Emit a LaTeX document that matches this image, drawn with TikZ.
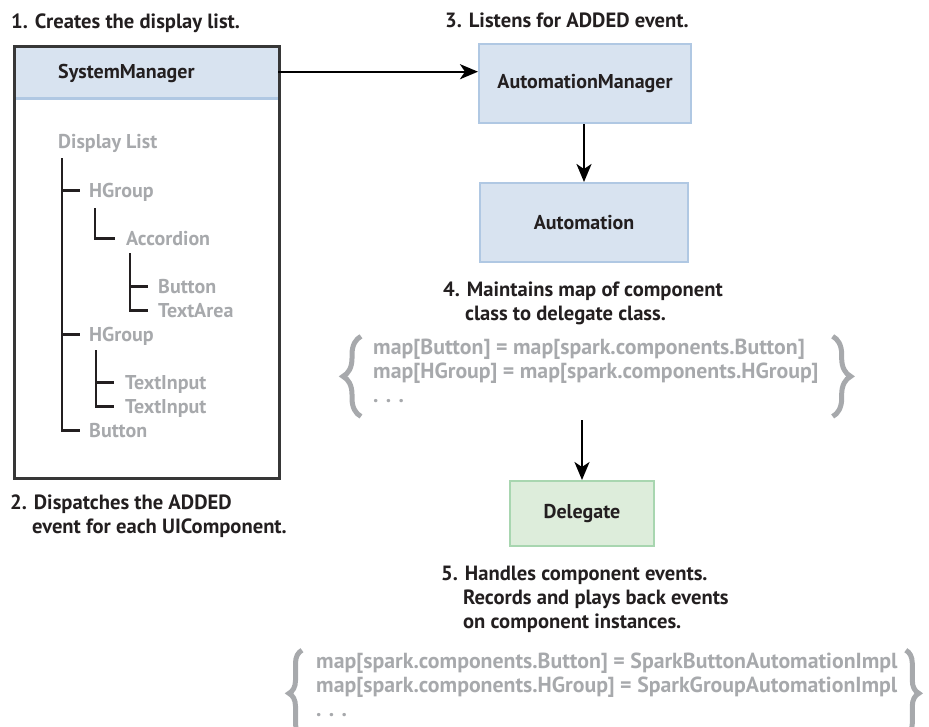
\documentclass[tikz,border=0pt]{standalone}
\usepackage{fontspec}
\setmainfont{PT Sans}
\usetikzlibrary{arrows.meta, positioning, decorations.pathreplacing}
\definecolor{cInk}{RGB}{35,31,32}
\definecolor{cGrey}{RGB}{167,169,172}
\definecolor{cFrame}{RGB}{55,55,55}
\definecolor{cBlueFill}{RGB}{216,227,240}
\definecolor{cBlueLine}{RGB}{176,200,227}
\definecolor{cGreenFill}{RGB}{221,237,219}
\definecolor{cGreenLine}{RGB}{168,214,176}
\tikzset{
	notetxt/.style ={anchor=base west, inner sep=0pt, align=left, text=cInk, font=\fontsize{20.6}{24}\selectfont\bfseries},
	treetxt/.style ={anchor=base west, inner sep=0pt, text=cGrey, text height=13pt, text depth=0pt},
	maptxt/.style  ={anchor=base west, inner sep=0pt, align=left, text=cGrey, font=\fontsize{21.8}{24}\selectfont\bfseries},
	blk/.style     ={rectangle, draw=cBlueLine, line width=2pt, fill=cBlueFill, text=cInk, minimum width=210pt, minimum height=79pt},
	delblk/.style  ={blk, draw=cGreenLine, fill=cGreenFill, minimum width=144pt, minimum height=65pt},
	treeline/.style={line width=2.5pt, draw=cInk},
	sig/.style     ={-{Stealth[length=18pt, width=15pt, inset=5pt]}, line width=2.4pt, draw=black},
	mapbrace/.style={decorate, decoration={brace, amplitude=#1}, line width=5pt, draw=cGrey},
}

\begin{document}
\begin{tikzpicture}[x=1pt, y=-1pt, font=\fontsize{20}{24}\selectfont\bfseries]
	\useasboundingbox (0,0) rectangle (929,726);
	% system manager with its display list
	\node[rectangle, fill=cBlueFill, minimum width=265pt, minimum height=53pt, anchor=north west, inner sep=0pt] (smhead) at (13,45) {};
	\draw[line width=2.5pt, draw=cBlueLine] (smhead.south west) -- (smhead.south east);
	\node[rectangle, draw=cFrame, line width=2.5pt, minimum width=265pt, minimum height=432pt, anchor=north west] (smbox) at (13,45) {};
	\node[anchor=base west, inner sep=0pt, text=cInk] (smtitle) at (58,78) {SystemManager};
	\node[treetxt] (dl) at (58,148) {Display List};
	\node[treetxt] (hg1) at (89,197) {HGroup};
	\node[treetxt] (acc) at (126,245) {Accordion};
	\node[treetxt] (btn1) at (158,293) {Button};
	\node[treetxt] (ta) at (158,317) {TextArea};
	\node[treetxt] (hg2) at (89,341) {HGroup};
	\node[treetxt] (ti1) at (125,389) {TextInput};
	\node[treetxt] (ti2) at (125,413) {TextInput};
	\node[treetxt] (btn2) at (89,437) {Button};
	\draw[treeline] ([xshift=4pt,yshift=-10pt]dl.south west) |- ([xshift=-9pt]hg1.west);
	\draw[treeline] ([xshift=4pt,yshift=-10pt]dl.south west) |- ([xshift=-9pt]hg2.west);
	\draw[treeline] ([xshift=4pt,yshift=-10pt]dl.south west) |- ([xshift=-9pt]btn2.west);
	\draw[treeline] ([xshift=6pt,yshift=-11pt]hg1.south west) |- ([xshift=-11pt]acc.west);
	\draw[treeline] ([xshift=4pt,yshift=-8pt]acc.south west) |- ([xshift=-10pt]btn1.west);
	\draw[treeline] ([xshift=4pt,yshift=-8pt]acc.south west) |- ([xshift=-10pt]ta.west);
	\draw[treeline] ([xshift=7pt,yshift=-9pt]hg2.south west) |- ([xshift=-11pt]ti1.west);
	\draw[treeline] ([xshift=7pt,yshift=-9pt]hg2.south west) |- ([xshift=-11pt]ti2.west);
	% automation side
	\node[blk, minimum width=212pt] (am) at (585,83.5) {AutomationManager};
	\node[blk, minimum width=208pt] (au) at (584,222.5) {Automation};
	\node[delblk] (del) at (582,513.5) {Delegate};
	\node[maptxt] (map1) at (373,402) {map[Button] = map[spark.components.Button]\\map[HGroup] = map[spark.components.HGroup]\\. . .};
	\node[maptxt] (map2) at (316,716) {map[spark.components.Button] = SparkButtonAutomationImpl\\map[spark.components.HGroup] = SparkGroupAutomationImpl\\. . .};
	\draw[mapbrace=18pt] ([xshift=-12pt,yshift=-14pt]map1.south west) -- ([xshift=-12pt,yshift=2pt]map1.north west);
	\draw[mapbrace=18pt] ([xshift=14pt,yshift=2pt]map1.north east) -- ([xshift=14pt,yshift=-14pt]map1.south east);
	\draw[mapbrace=13pt] ([xshift=-14pt,yshift=-20pt]map2.south west) -- ([xshift=-14pt,yshift=2pt]map2.north west);
	\draw[mapbrace=13pt] ([xshift=8pt,yshift=2pt]map2.north east) -- ([xshift=8pt,yshift=-20pt]map2.south east);
	% notes
	\node[notetxt] (n1) at (11,28) {1. Creates the display list.};
	\node[notetxt] (n2) at (10,533) {2. Dispatches the ADDED\\\phantom{2.\ }event for each UIComponent.};
	\node[notetxt] (n3) at (445,27) {3. Listens for ADDED event.};
	\node[notetxt] (n4) at (443,320) {4. Maintains map of component\\\phantom{4.\ }class to delegate class.};
	\node[notetxt] (n5) at (441,628) {5. Handles component events.\\\phantom{5.\ }Records and plays back events\\\phantom{5.\ }on component instances.};
	% flow
	\draw[sig] (smhead.east) -- (smhead.east -| am.west);
	\draw[sig] (am.south -| au.north) -- (au.north);
	\draw[sig] ([yshift=-18pt]del.north |- map1.south) -- (del.north);
\end{tikzpicture}
\end{document}
